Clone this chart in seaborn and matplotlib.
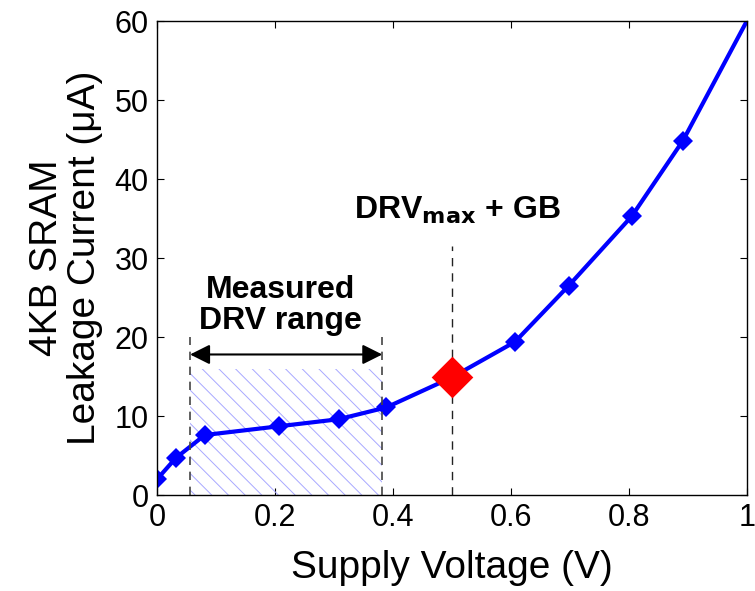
import matplotlib
matplotlib.use("Agg")
import matplotlib.pyplot as plt
import seaborn as sns
import pandas as pd

voltage = [0.0, 0.032, 0.081, 0.206, 0.308, 0.389, 0.5, 0.607, 0.698, 0.805, 0.892, 1.0]
current = [2.0, 4.7, 7.6, 8.7, 9.6, 11.1, 14.9, 19.4, 26.5, 35.3, 44.9, 60.0]
drv_gb_x = [0.5]
drv_gb_y = [14.9]
drv_range = [0.056, 0.382]
xticks = [0, 0.2, 0.4, 0.6, 0.8, 1]
xtick_labels = ["0", "0.2", "0.4", "0.6", "0.8", "1"]
yticks = [0, 10, 20, 30, 40, 50, 60]

sns.set_style("ticks")
plt.rcParams['font.family'] = ['Liberation Sans', 'DejaVu Sans']
plt.rcParams['hatch.linewidth'] = 0.7
plt.rcParams['text.color'] = 'black'
plt.rcParams['axes.labelcolor'] = 'black'
plt.rcParams['xtick.color'] = 'black'
plt.rcParams['ytick.color'] = 'black'

fig = plt.figure(figsize=(7.55, 5.91), dpi=100)
ax = fig.add_axes([0.208, 0.1624, 0.781, 0.8016])

df = pd.DataFrame({"V": voltage, "I": current})
sns.lineplot(data=df, x="V", y="I", ax=ax, color="#0000ff", linewidth=3,
             marker="D", markersize=10, markeredgewidth=0,
             markevery=list(range(len(voltage) - 1)))
sns.scatterplot(x=drv_gb_x, y=drv_gb_y, ax=ax, color="red", marker="D",
                s=450, linewidth=0, zorder=5)

# hatched measured region
ax.fill_between(drv_range, [0, 0], [16, 16], facecolor="none",
                edgecolor="#a8a8ff", hatch="\\\\", linewidth=0, zorder=1)
for xv in drv_range:
    ax.plot([xv, xv], [0, 20], color="#444444", linestyle=(0, (5, 4)), linewidth=1.2, zorder=2)
ax.plot([0.5, 0.5], [0, 31.5], color="#222222", linestyle=(0, (6, 5)), linewidth=1, zorder=2)

ax.annotate("", xy=(drv_range[0], 17.8), xytext=(drv_range[1], 17.8),
            arrowprops=dict(arrowstyle="<|-|>", color="black", lw=1.5,
                            mutation_scale=30, shrinkA=0, shrinkB=0))
ax.text(0.21, 24.0, "Measured\nDRV range", ha="center", va="center",
        fontsize=23, fontweight="bold", linespacing=1.05)
ax.text(0.51, 36.0, r"DRV$_{\mathbf{max}}$ + GB", ha="center", va="center",
        fontsize=23, fontweight="bold")

ax.set_xlim(0, 1)
ax.set_ylim(0, 60)
ax.set_xticks(xticks)
ax.set_xticklabels(xtick_labels)
ax.set_yticks(yticks)
ax.tick_params(labelsize=22, direction="in", length=5, top=True, right=True, pad=6)
ax.set_xlabel("Supply Voltage (V)", fontsize=28, labelpad=12)
ax.set_ylabel("4KB SRAM\nLeakage Current (\u03bcA)", fontsize=28, linespacing=1.1, labelpad=8)
for s in ax.spines.values():
    s.set_linewidth(1)
    s.set_color("black")

fig.savefig("out.png", dpi=100)
